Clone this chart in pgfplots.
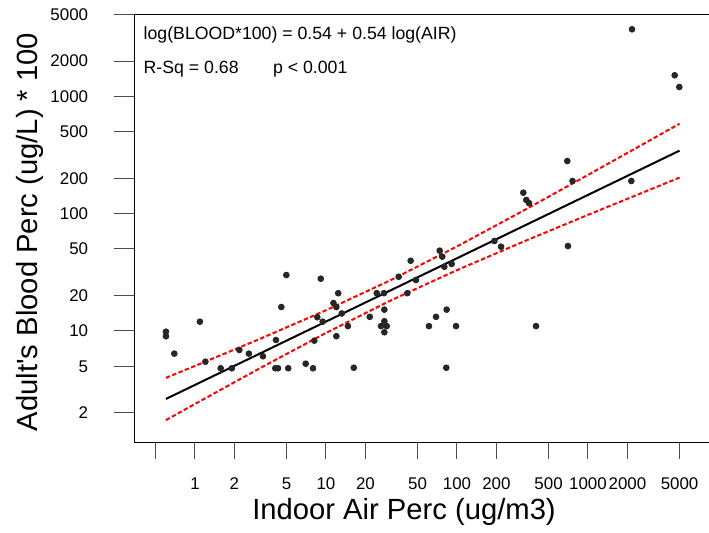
\documentclass[border=0pt]{standalone}
\usepackage{fontspec}
\setmainfont{Liberation Sans}
\usepackage{pgfplots}
\pgfplotsset{compat=1.18}

% indoor air (ug/m3) vs adult blood (ug/L * 100)
\pgfplotstableread{
x y
0.600 9.86
0.600 9.01
0.695 6.41
1.09 12.0
1.20 5.47
1.57 4.81
1.91 4.81
2.18 6.89
2.58 6.41
3.30 6.09
4.15 8.38
4.10 4.81
4.30 4.81
4.56 16.0
4.98 30.0
5.15 4.81
7.00 5.26
7.96 4.81
8.14 8.27
8.58 13.1
9.12 27.9
9.44 12.0
11.4 17.3
12.0 16.0
12.4 21.0
12.0 9.03
13.2 14.1
14.7 11.0
16.3 4.86
21.6 13.2
24.4 21.0
27.7 21.0
27.9 15.2
27.9 12.1
26.3 11.0
29.1 11.0
27.9 9.75
41.8 21.0
35.9 29.0
44.3 39.7
48.6 27.2
61.1 11.0
69.2 13.2
73.8 48.4
77.2 43.0
80.0 35.3
91.1 37.3
83.4 15.2
98.3 11.0
82.8 4.86
193 58.5
217 52.3
321 151
338 131
355 123
401 11.0
695 281
703 53.0
762 190
2168 3733
2142 190
4592 1514
4977 1202
}\pts

\begin{document}
\begin{tikzpicture}
\path[use as bounding box] (-67.35pt,-45.15pt) rectangle (287.15pt,221.35pt);
\begin{axis}[
  at={(0pt,0pt)}, anchor=south west,
  scale only axis, width=287.15pt, height=214.15pt,
  xmode=log, ymode=log,
  xmin=0.3465, xmax=8389, ymin=1.116, ymax=5000,
  axis x line*=box, axis y line*=left,
  axis line style={-, line width=0.5pt, black},
  xtick={0.5,1,2,5,10,20,50,100,200,500,1000,2000,5000},
  xticklabels={,1,2,5,10,20,50,100,200,500,1000,2000,5000},
  ytick={2,5,10,20,50,100,200,500,1000,2000,5000},
  yticklabels={2,5,10,20,50,100,200,500,1000,2000,5000},
  minor tick num=0,
  tick align=outside, xtick pos=bottom, ytick pos=left,
  xtick style={black!70, line width=0.5pt, /pgfplots/major tick length=8pt},
  ytick style={black!70, line width=0.5pt, /pgfplots/major tick length=10.35pt},
  tick label style={font=\fontsize{8.45}{10}\selectfont},
  xticklabel style={anchor=base, inner sep=0pt, yshift=-19.15pt},
  yticklabel style={anchor=east, inner sep=0pt, xshift=-18.85pt},
  xlabel={Indoor Air Perc (ug/m3)},
  ylabel={Adult\textquotesingle s Blood Perc (ug/L) * 100},
  label style={font=\fontsize{14.6}{17}\selectfont},
  xlabel style={at={(axis description cs:0.469,0)}, anchor=base, yshift=-38.65pt, inner sep=0pt},
  ylabel style={at={(axis description cs:-0.1823,0.492)}, anchor=center, inner sep=0pt},
  clip=false,
]
\addplot[only marks, mark=*, mark size=1.45pt, black!85] table {\pts};
\addplot[black, line width=1pt] coordinates {(0.6,2.633) (5000,344.7)};
\addplot[red, line width=1pt, dash pattern=on 2.2pt off 1.2pt] coordinates {
  (0.6,3.985) (1,5.036) (3.162,8.604) (10,15.02) (31.62,27.34)
  (100,52.60) (316.2,105.1) (1000,213.9) (5000,584.8)};
\addplot[red, line width=1pt, dash pattern=on 2.2pt off 1.2pt] coordinates {
  (0.6,1.738) (1,2.388) (3.162,4.845) (10,9.627) (31.62,18.34)
  (100,33.04) (316.2,57.33) (1000,97.7) (5000,203.2)};
\end{axis}
\begin{scope}[every node/.style={anchor=base west, inner sep=0pt, font=\fontsize{8.85}{10.6}\selectfont}]
\node at (4.3pt,201.35pt) {log(BLOOD*100) = 0.54 + 0.54 log(AIR)};
\node at (4.3pt,184.7pt) {R-Sq = 0.68};
\node at (69pt,184.7pt) {p < 0.001};
\end{scope}
\end{tikzpicture}
\end{document}
